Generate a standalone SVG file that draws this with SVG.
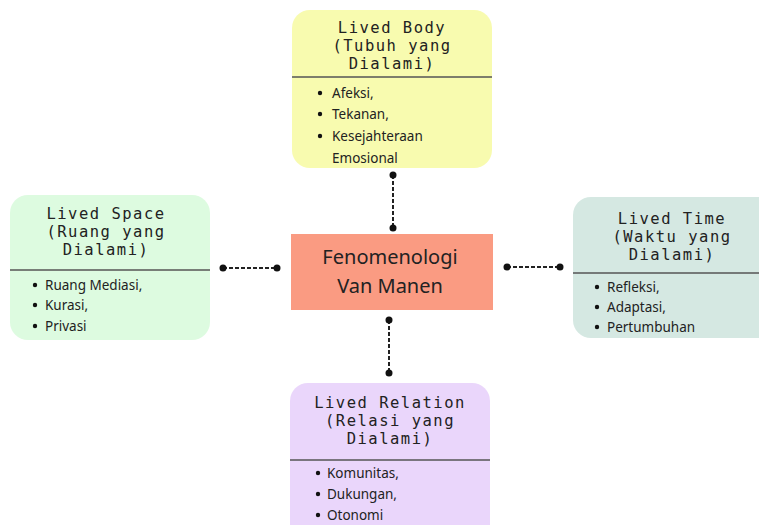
<svg xmlns="http://www.w3.org/2000/svg" width="759" height="525" viewBox="0 0 759 525">
<defs>
<style>
.title{font-family:"DejaVu Sans Mono","Liberation Mono",monospace;font-size:15.5px;letter-spacing:1.5px;fill:#222;text-anchor:middle}
.item{font-family:"Noto Sans","DejaVu Sans",sans-serif;font-size:13.5px;fill:#222}
.div{stroke:#555;stroke-width:1.6}
.conn{stroke:#222;stroke-width:2;stroke-dasharray:4 2;fill:none}
.dot{fill:#111}
.center{font-family:"Noto Sans","DejaVu Sans",sans-serif;font-size:20px;fill:#222;text-anchor:middle}
</style>
</defs>
<rect width="759" height="525" fill="#ffffff"/>
<g id="connectors">
<line class="conn" x1="393" y1="175" x2="393" y2="228"/>
<circle class="dot" cx="393" cy="175" r="3.5"/><circle class="dot" cx="393" cy="228" r="3.5"/>
<line class="conn" x1="389" y1="320" x2="389" y2="373"/>
<circle class="dot" cx="389" cy="320" r="3.5"/><circle class="dot" cx="389" cy="373" r="3.5"/>
<line class="conn" x1="223" y1="268" x2="277" y2="268"/>
<circle class="dot" cx="223" cy="268" r="3.5"/><circle class="dot" cx="277" cy="268" r="3.5"/>
<line class="conn" x1="507" y1="267" x2="560" y2="267"/>
<circle class="dot" cx="507" cy="267" r="3.5"/><circle class="dot" cx="560" cy="267" r="3.5"/>
</g>
<g id="center">
<rect x="291" y="234" width="202" height="76" fill="#FA9B82"/>
<text class="center" x="390" y="264">Fenomenologi</text>
<text class="center" x="390" y="293">Van Manen</text>
</g>
<g id="lived-body">
<rect x="292" y="10" width="200" height="158" rx="18" fill="#F8FBAF"/>
<line class="div" x1="292" y1="77" x2="492" y2="77"/>
<text class="title" x="392" y="33">Lived Body</text>
<text class="title" x="392" y="51.2">(Tubuh yang</text>
<text class="title" x="392" y="69.4">Dialami)</text>
<circle class="dot" cx="320" cy="93" r="2.2"/>
<text class="item" x="332" y="98">Afeksi,</text>
<circle class="dot" cx="320" cy="114" r="2.2"/>
<text class="item" x="332" y="119">Tekanan,</text>
<circle class="dot" cx="320" cy="136" r="2.2"/>
<text class="item" x="332" y="141">Kesejahteraan</text>
<text class="item" x="332" y="163">Emosional</text>
</g>
<g id="lived-space">
<rect x="10" y="195" width="200" height="145" rx="18" fill="#DDFBE0"/>
<line class="div" x1="10" y1="270" x2="210" y2="270"/>
<text class="title" x="106" y="219">Lived Space</text>
<text class="title" x="106" y="237.2">(Ruang yang</text>
<text class="title" x="106" y="255.4">Dialami)</text>
<circle class="dot" cx="35" cy="285" r="2.2"/>
<text class="item" x="45" y="290">Ruang Mediasi,</text>
<circle class="dot" cx="35" cy="305" r="2.2"/>
<text class="item" x="45" y="310">Kurasi,</text>
<circle class="dot" cx="35" cy="326" r="2.2"/>
<text class="item" x="45" y="331">Privasi</text>
</g>
<g id="lived-time">
<rect x="573" y="197" width="210" height="141" rx="18" fill="#D5E8E2"/>
<line class="div" x1="573" y1="273" x2="759" y2="273"/>
<text class="title" x="672" y="224">Lived Time</text>
<text class="title" x="672" y="242.2">(Waktu yang</text>
<text class="title" x="672" y="260.4">Dialami)</text>
<circle class="dot" cx="597" cy="287" r="2.2"/>
<text class="item" x="607" y="292">Refleksi,</text>
<circle class="dot" cx="597" cy="307" r="2.2"/>
<text class="item" x="607" y="312">Adaptasi,</text>
<circle class="dot" cx="597" cy="327" r="2.2"/>
<text class="item" x="607" y="332">Pertumbuhan</text>
</g>
<g id="lived-relation">
<rect x="290" y="383" width="200" height="160" rx="18" fill="#EAD6FB"/>
<line class="div" x1="290" y1="460" x2="490" y2="460"/>
<text class="title" x="390" y="408">Lived Relation</text>
<text class="title" x="390" y="426.2">(Relasi yang</text>
<text class="title" x="390" y="444.4">Dialami)</text>
<circle class="dot" cx="318" cy="473" r="2.2"/>
<text class="item" x="327" y="478">Komunitas,</text>
<circle class="dot" cx="318" cy="494" r="2.2"/>
<text class="item" x="327" y="499">Dukungan,</text>
<circle class="dot" cx="318" cy="515" r="2.2"/>
<text class="item" x="327" y="520">Otonomi</text>
</g>
</svg>
